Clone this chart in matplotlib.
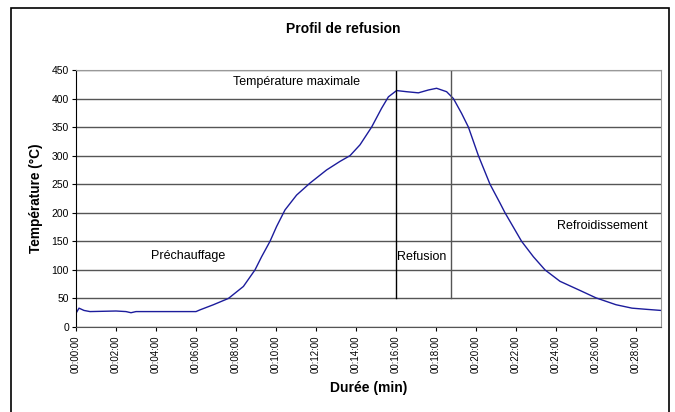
import matplotlib
matplotlib.use('Agg')
import matplotlib.pyplot as plt
from matplotlib.patches import Rectangle

plt.rcParams['font.family'] = ['Liberation Sans', 'DejaVu Sans']

# reflow profile, time in minutes, temperature in °C
time_min = [0.0, 0.15, 0.4, 0.7, 2.0, 2.5, 2.75, 3.0, 4.0, 5.0, 6.0,
            6.2, 6.87, 7.62, 8.37, 8.95, 9.28, 9.7, 10.03, 10.45, 11.03,
            11.7, 12.53, 13.2, 13.7, 14.2, 14.78, 15.28, 15.62, 16.03,
            16.53, 17.12, 17.62, 18.03, 18.53, 18.87, 19.28, 19.62, 20.12,
            20.7, 21.2, 21.45, 22.28, 22.87, 23.45, 24.2, 25.2, 26.0,
            27.0, 27.8, 28.5, 29.25]
temp_c = [24, 33, 29, 27, 28, 27, 25, 27, 27, 27, 27,
          30, 39, 50, 71, 100, 123, 150, 176, 205, 231,
          252, 275, 290, 300, 319, 350, 383, 403, 414,
          412, 410, 415, 418, 412, 400, 374, 350, 300,
          250, 217, 200, 150, 123, 100, 80, 64, 51,
          39, 33, 31, 29]

tick_min = list(range(0, 30, 2))
tick_labels = ['00:%02d:00' % m for m in tick_min]
phase_bounds = [16.0, 18.75]
phase_labels = ['Préchauffage', 'Température maximale', 'Refusion', 'Refroidissement']

fig = plt.figure(figsize=(6.75, 4.12), dpi=100)
ax = fig.add_axes([76 / 675, 1 - 327 / 412, (661 - 76) / 675, (327 - 70) / 412])

# outer frame
fig.patches.append(Rectangle((11 / 675, -0.05), (669 - 11) / 675, 1.05 - 8 / 412,
                             transform=fig.transFigure, fill=False,
                             edgecolor='black', linewidth=1.2))

ax.set_yticks(range(0, 451, 50))
ax.yaxis.grid(True, color='#555555', linewidth=1)
ax.set_axisbelow(True)

ax.plot(time_min, temp_c, color='#1c1c9c', linewidth=1)

for i, b in enumerate(phase_bounds):
    ax.plot([b, b], [50, 450], color='black' if i == 0 else '#555555', linewidth=1)

ax.text(5.6, 125, phase_labels[0], ha='center', va='center', fontsize=9)
ax.text(11.03, 429, phase_labels[1], ha='center', va='center', fontsize=9)
ax.text(16.07, 122, phase_labels[2], ha='left', va='center', fontsize=9)
ax.text(26.3, 177, phase_labels[3], ha='center', va='center', fontsize=9)

ax.set_xlim(0, 29.25)
ax.set_ylim(0, 450)
ax.set_xticks(tick_min)
ax.set_xticklabels(tick_labels, rotation=90, fontsize=7)
ax.tick_params(axis='y', labelsize=7.5, length=3, pad=2)
ax.tick_params(axis='x', length=3, pad=3)

for side in ['top', 'right']:
    ax.spines[side].set_color('#999999')
ax.spines['bottom'].set_color('#555555')
ax.spines['left'].set_color('black')

ax.set_xlabel('Durée (min)', fontsize=10, fontweight='bold', labelpad=6)
ax.set_ylabel('Température (°C)', fontsize=9.8, fontweight='bold', labelpad=6)
fig.text(343 / 675, 1 - 29 / 412, 'Profil de refusion', ha='center', va='center',
         fontsize=10, fontweight='bold')

plt.savefig('out.png', dpi=100)
plt.close()
